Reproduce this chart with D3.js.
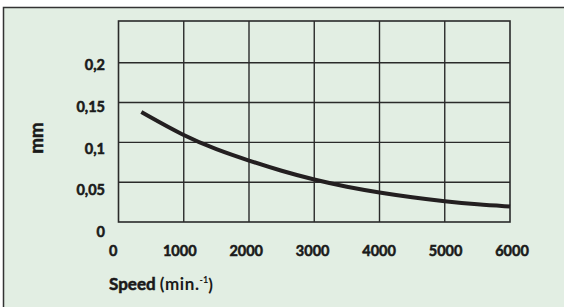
<!DOCTYPE html>
<html><head><meta charset="utf-8">
<script src="https://cdn.jsdelivr.net/npm/d3@7"></script>
<style>
html,body{margin:0;padding:0;background:#fff;}
svg{display:block;}
text{font-family:Lato, "Open Sans", sans-serif;fill:#1a1a1a;}
.b{stroke:#1a1a1a;stroke-width:0.55px;}
</style></head>
<body>
<svg id="c" width="564" height="307"></svg>
<script>
const speed = [350, 1000, 1500, 2000, 2500, 3000, 3500, 4000, 4500, 5000, 5500, 6000];
const mm    = [0.138, 0.108, 0.091, 0.077, 0.064, 0.053, 0.044, 0.037, 0.031, 0.026, 0.022, 0.0195];
const xTicks = [0, 1000, 2000, 3000, 4000, 5000, 6000];
const yTicks = [0, 0.05, 0.1, 0.15, 0.2];
const yTickLabels = ["0", "0,05", "0,1", "0,15", "0,2"];

const svg = d3.select("#c");
svg.append("rect").attr("x", 3.5).attr("y", 7.5).attr("width", 580).attr("height", 320)
  .attr("fill", "#e2eee3").attr("stroke", "#333").attr("stroke-width", 1.5);

const x = d3.scaleLinear().domain([0, 6000]).range([118.5, 510]);
const y = d3.scaleLinear().domain([0, 0.2524]).range([222, 21]);
const xLab = d3.scaleLinear().domain([0, 6000]).range([113.3, 512]);
const yLab = d3.scaleLinear().domain([0, 0.2]).range([231.7, 65]);

const g = svg.append("g");
g.selectAll("line.v").data(xTicks.slice(1, -1)).join("line")
  .attr("x1", d => x(d)).attr("x2", d => x(d)).attr("y1", y(0)).attr("y2", y(0.2524))
  .attr("stroke", "#2a2a2a").attr("stroke-width", 1.4);
g.selectAll("line.h").data(yTicks.slice(1)).join("line")
  .attr("y1", d => y(d)).attr("y2", d => y(d)).attr("x1", x(0)).attr("x2", x(6000))
  .attr("stroke", "#2a2a2a").attr("stroke-width", 1.4);
g.append("rect").attr("x", x(0)).attr("y", y(0.2524)).attr("width", x(6000) - x(0)).attr("height", y(0) - y(0.2524))
  .attr("fill", "none").attr("stroke", "#2a2a2a").attr("stroke-width", 1.6);

const line = d3.line().x((d, i) => x(speed[i])).y(d => y(d)).curve(d3.curveBasis);
g.append("path").attr("d", line(mm)).attr("fill", "none").attr("stroke", "#231f20")
  .attr("stroke-width", 4).attr("stroke-linecap", "butt");

svg.selectAll("text.xl").data(xTicks).join("text").attr("class", "xl b")
  .attr("x", d => xLab(d)).attr("y", 250.7).attr("dy", "0.36em")
  .attr("text-anchor", "middle").attr("font-size", 14.5).attr("font-weight", 700).text(d => d);
svg.selectAll("text.yl").data(yTicks).join("text").attr("class", "yl b")
  .attr("x", 105).attr("y", d => yLab(d)).attr("dy", "0.36em")
  .attr("text-anchor", "end").attr("font-size", 14.5).attr("font-weight", 700).text((d, i) => yTickLabels[i]);

svg.append("text").attr("class", "b").attr("transform", "translate(36.5,138) rotate(-90)")
  .attr("text-anchor", "middle").attr("dy", "0.36em").attr("font-size", 18.5).attr("font-weight", 700).text("mm");

const t = svg.append("text").attr("x", 109).attr("y", 284).attr("dy", "0.36em").attr("font-size", 17);
t.append("tspan").attr("class", "b").attr("font-weight", 700).text("Speed ");
t.append("tspan").attr("font-weight", 700).attr("letter-spacing", 0.6).text("(min.");
t.append("tspan").attr("font-weight", 700).attr("font-size", 9).attr("dy", "-0.75em").text("-1");
t.append("tspan").attr("font-weight", 700).attr("dy", "0.45em").text(")");
</script>
</body></html>
